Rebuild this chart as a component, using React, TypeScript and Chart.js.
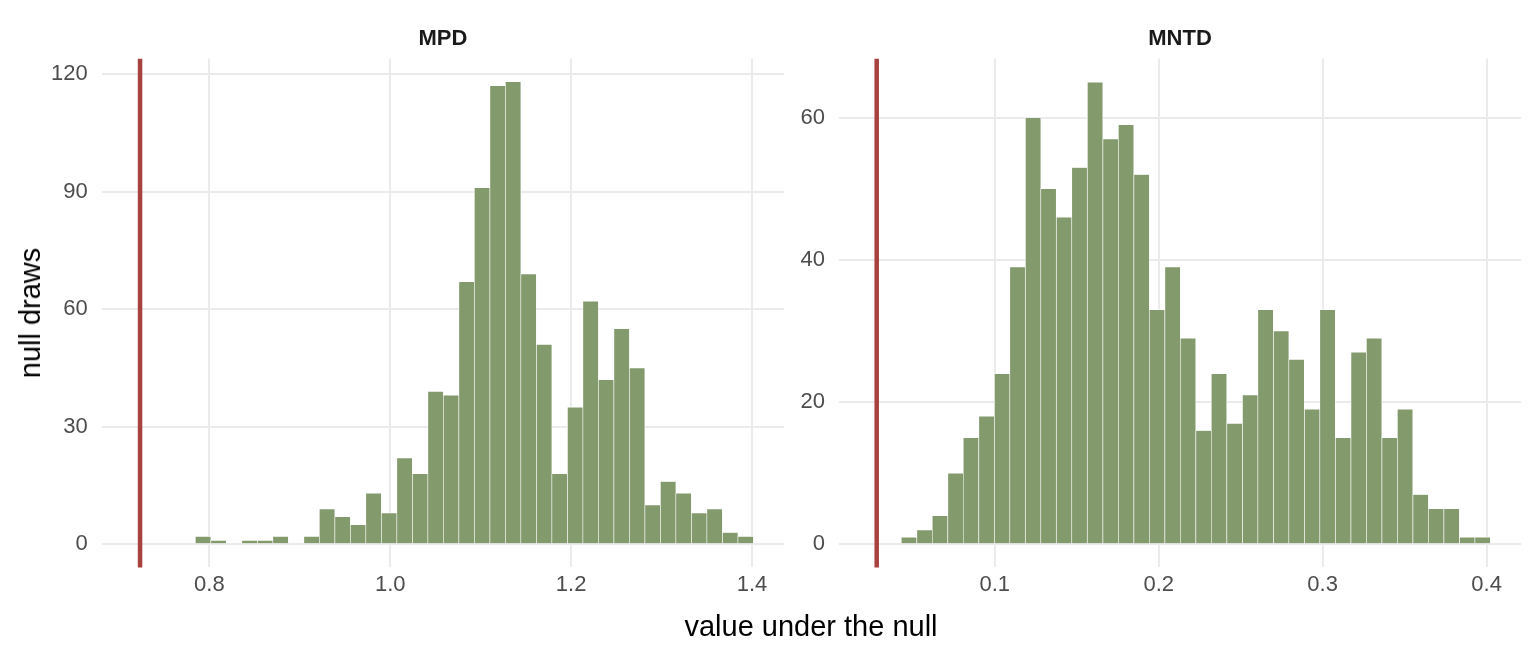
import React, { useEffect, useRef } from "react";
import { Chart, registerables } from "chart.js";

Chart.register(...registerables);

// ---------- data ----------
const panelTitles = ["MPD", "MNTD"];

const mpdBinCenters = [
  0.7931, 0.8102, 0.8274, 0.8445, 0.8617, 0.8788, 0.8959, 0.9131, 0.9302,
  0.9474, 0.9645, 0.9816, 0.9988, 1.0159, 1.0331, 1.0502, 1.0673, 1.0845,
  1.1016, 1.1188, 1.1359, 1.153, 1.1702, 1.1873, 1.2045, 1.2216, 1.2387,
  1.2559, 1.273, 1.2902, 1.3073, 1.3244, 1.3416, 1.3587, 1.3759, 1.393,
];
const mpdCounts = [
  2, 1, 0, 1, 1, 2, 0, 2, 9, 7, 5, 13, 8, 22, 18, 39, 38, 67, 91, 117, 118,
  69, 51, 18, 35, 62, 42, 55, 45, 10, 16, 13, 8, 9, 3, 2,
];

const mntdBinCenters = [
  0.0477, 0.0572, 0.0666, 0.0761, 0.0855, 0.095, 0.1045, 0.1139, 0.1234,
  0.1328, 0.1423, 0.1517, 0.1612, 0.1707, 0.1801, 0.1896, 0.199, 0.2085,
  0.2179, 0.2274, 0.2368, 0.2463, 0.2558, 0.2652, 0.2747, 0.2841, 0.2936,
  0.303, 0.3125, 0.322, 0.3314, 0.3409, 0.3503, 0.3598, 0.3692, 0.3787,
  0.3882, 0.3976,
];
const mntdCounts = [
  1, 2, 4, 10, 15, 18, 24, 39, 60, 50, 46, 53, 65, 57, 59, 52, 33, 39, 29, 16,
  24, 17, 21, 33, 30, 26, 19, 33, 15, 27, 29, 15, 19, 7, 5, 5, 1, 1,
];

const mpdXTicks = [0.8, 1.0, 1.2, 1.4];
const mpdYTicks = [0, 30, 60, 90, 120];
const mntdXTicks = [0.1, 0.2, 0.3, 0.4];
const mntdYTicks = [0, 20, 40, 60];

const mpdObserved = 0.7234;
const mntdObserved = 0.028;

const axisTitleX = "value under the null";
const axisTitleY = "null draws";

// ---------- styling ----------
const FONT = '"Liberation Sans", Arial, Helvetica, sans-serif';
const BAR_COLOR = "#839A6D";
const LINE_COLOR = "#A8423F";
const GRID_COLOR = "#EBEBEB";
const TICK_COLOR = "#4D4D4D";

const panelExtras = {
  id: "panelExtras",
  afterDatasetsDraw(chart: any, _args: any, opts: any) {
    const { ctx, chartArea, scales } = chart;
    const px = scales.x.getPixelForValue(opts.observed);
    ctx.save();
    ctx.strokeStyle = LINE_COLOR;
    ctx.lineWidth = 4.5;
    ctx.beginPath();
    ctx.moveTo(px, chartArea.top);
    ctx.lineTo(px, chartArea.bottom);
    ctx.stroke();
    ctx.fillStyle = "#1A1A1A";
    ctx.font = `bold 22px ${FONT}`;
    ctx.textAlign = "center";
    ctx.textBaseline = "alphabetic";
    ctx.fillText(opts.title, (chartArea.left + chartArea.right) / 2, 45);
    ctx.restore();
  },
};

type PanelProps = {
  left: number;
  width: number;
  yAxisWidth: number;
  rightPad: number;
  centers: number[];
  counts: number[];
  xTicks: number[];
  yTicks: number[];
  xMin: number;
  xMax: number;
  yMin: number;
  yMax: number;
  observed: number;
  title: string;
};

const HEIGHT = 652;
const PLOT_TOP = 58.7;
const PLOT_BOTTOM = 567.4;

function Panel(p: PanelProps) {
  const ref = useRef<HTMLCanvasElement | null>(null);
  useEffect(() => {
    if (!ref.current) return;
    const chart = new Chart(ref.current, {
      type: "bar",
      data: {
        datasets: [
          {
            data: p.centers.map((x, i) => ({ x, y: p.counts[i] })),
            backgroundColor: BAR_COLOR,
            borderColor: "#FFFFFF",
            borderWidth: 0.6,
            borderSkipped: "start",
            barPercentage: 1,
            categoryPercentage: 1,
          } as any,
        ],
      },
      options: {
        animation: false,
        responsive: false,
        maintainAspectRatio: false,
        layout: {
          padding: { left: 0, right: p.rightPad, top: PLOT_TOP, bottom: 0 },
        },
        plugins: {
          legend: { display: false },
          tooltip: { enabled: false },
          panelExtras: { observed: p.observed, title: p.title },
        } as any,
        scales: {
          x: {
            type: "linear",
            min: p.xMin,
            max: p.xMax,
            offset: false,
            grid: { color: GRID_COLOR, lineWidth: 2, drawTicks: false, offset: false },
            border: { display: false },
            ticks: {
              color: TICK_COLOR,
              font: { family: FONT, size: 22 },
              padding: 4,
              autoSkip: false,
              maxRotation: 0,
              callback: (v: any) => Number(v).toFixed(1),
            },
            afterBuildTicks: (scale: any) => {
              scale.ticks = p.xTicks.map((v) => ({ value: v }));
            },
            afterFit: (scale: any) => {
              scale.height = HEIGHT - PLOT_BOTTOM;
            },
          },
          y: {
            type: "linear",
            min: p.yMin,
            max: p.yMax,
            grid: { color: GRID_COLOR, lineWidth: 2, drawTicks: false },
            border: { display: false },
            ticks: {
              color: TICK_COLOR,
              font: { family: FONT, size: 22 },
              padding: 14,
              autoSkip: false,
              callback: (v: any) => String(v),
            },
            afterBuildTicks: (scale: any) => {
              scale.ticks = p.yTicks.map((v) => ({ value: v }));
            },
            afterFit: (scale: any) => {
              scale.width = p.yAxisWidth;
            },
          },
        },
      } as any,
      plugins: [panelExtras as any],
    });
    return () => chart.destroy();
  }, []);
  return (
    <canvas
      ref={ref}
      width={p.width}
      height={HEIGHT}
      style={{
        position: "absolute",
        left: p.left,
        top: 0,
        width: p.width,
        height: HEIGHT,
      }}
    />
  );
}

export default function App() {
  return (
    <div
      style={{
        position: "absolute",
        left: 0,
        top: 0,
        width: 1536,
        height: 652,
        background: "#FFFFFF",
        overflow: "hidden",
        fontFamily: FONT,
      }}
    >
      <Panel
        left={0}
        width={800}
        yAxisWidth={101.7}
        rightPad={16}
        centers={mpdBinCenters}
        counts={mpdCounts}
        xTicks={mpdXTicks}
        yTicks={mpdYTicks}
        xMin={0.681}
        xMax={1.4354}
        yMin={-5.9}
        yMax={123.9}
        observed={mpdObserved}
        title={panelTitles[0]}
      />
      <Panel
        left={790}
        width={746}
        yAxisWidth={49}
        rightPad={15}
        centers={mntdBinCenters}
        counts={mntdCounts}
        xTicks={mntdXTicks}
        yTicks={mntdYTicks}
        xMin={0.005}
        xMax={0.421}
        yMin={-3.25}
        yMax={68.3}
        observed={mntdObserved}
        title={panelTitles[1]}
      />
      <div
        style={{
          position: "absolute",
          left: 30,
          top: 313,
          transform: "translate(-50%, -50%) rotate(-90deg)",
          whiteSpace: "nowrap",
          fontSize: 29,
          lineHeight: "32px",
          color: "#000",
        }}
      >
        {axisTitleY}
      </div>
      <div
        style={{
          position: "absolute",
          left: 811,
          top: 610,
          transform: "translateX(-50%)",
          whiteSpace: "nowrap",
          fontSize: 29,
          lineHeight: "32px",
          color: "#000",
        }}
      >
        {axisTitleX}
      </div>
    </div>
  );
}
